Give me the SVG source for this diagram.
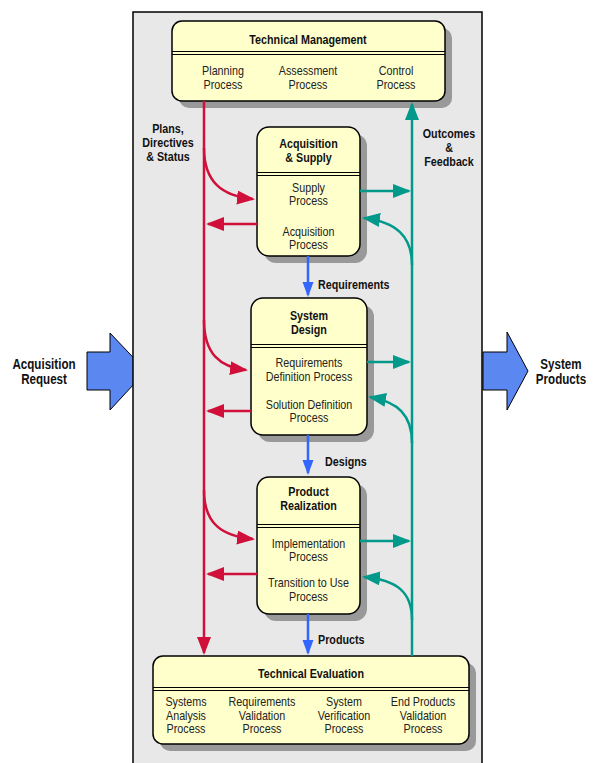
<svg xmlns="http://www.w3.org/2000/svg" width="596" height="763" viewBox="0 0 596 763">
<style>
text{font-family:"Liberation Sans",Arial,sans-serif;text-anchor:middle;transform-box:fill-box;transform-origin:center;transform:scaleX(0.86)}
.t{font-weight:bold;font-size:12.5px;fill:#111}
.s{font-size:12.5px;fill:#222}
.l{font-weight:bold;font-size:12.5px;fill:#111}
.st{text-anchor:start;transform-origin:left center}
.big{font-weight:bold;font-size:14.5px;fill:#111;transform:scaleX(0.8)}
.box{fill:#ffffcc;stroke:#000;stroke-width:1.5}
.sh{fill:#999}
.dl{stroke:#000;stroke-width:1.2}
.red{fill:none;stroke:#d0103a;stroke-width:2.5}
.teal{fill:none;stroke:#00998a;stroke-width:2.5}
.blue{fill:none;stroke:#3366ff;stroke-width:2.5}
.bigarrow{fill:#5a87f0;stroke:#000;stroke-width:1}
</style>
<defs>
<marker id="ar" markerUnits="userSpaceOnUse" markerWidth="20" markerHeight="16" refX="16" refY="7" orient="auto"><path d="M0,0 L18,7 L0,14 z" fill="#d0103a"/></marker>
<marker id="at" markerUnits="userSpaceOnUse" markerWidth="20" markerHeight="16" refX="16" refY="7" orient="auto"><path d="M0,0 L18,7 L0,14 z" fill="#00998a"/></marker>
<marker id="ab" markerUnits="userSpaceOnUse" markerWidth="16" markerHeight="12" refX="13" refY="5.5" orient="auto"><path d="M0,0 L15,5.5 L0,11 z" fill="#3366ff"/></marker>
</defs>
<g id="acq-request">
<polygon class="bigarrow" points="87,352 110,352 110,333 146,371 110,410 110,390 87,390"/>
<text class="big" x="44" y="369">Acquisition</text>
<text class="big" x="44" y="384">Request</text>
</g>
<rect id="panel" x="133" y="12" width="349" height="760" fill="#e8e8e8" stroke="#000" stroke-width="1.5"/>
<g id="sys-products">
<polygon class="bigarrow" points="483,352 507,352 507,332 528,371 507,410 507,390 483,390"/>
<text class="big" x="561" y="369">System</text>
<text class="big" x="561" y="384">Products</text>
</g>
<g id="tech-mgmt">
<rect class="sh" x="179" y="28" width="273" height="80" rx="10"/>
<rect class="box" x="172" y="21" width="273" height="80" rx="10"/>
<line class="dl" x1="172" y1="51.5" x2="445" y2="51.5"/><line class="dl" x1="172" y1="54.5" x2="445" y2="54.5"/>
<text class="t" x="308" y="44">Technical Management</text>
<text class="s" x="223" y="75">Planning</text><text class="s" x="223" y="89">Process</text>
<text class="s" x="308" y="75">Assessment</text><text class="s" x="308" y="89">Process</text>
<text class="s" x="396" y="75">Control</text><text class="s" x="396" y="89">Process</text>
</g>
<g id="acq-supply">
<rect class="sh" x="264" y="134" width="103" height="129" rx="12"/>
<rect class="box" x="257" y="127" width="103" height="129" rx="12"/>
<line class="dl" x1="257" y1="172.5" x2="360" y2="172.5"/><line class="dl" x1="257" y1="175.5" x2="360" y2="175.5"/>
<text class="t" x="308.5" y="148.5">Acquisition</text><text class="t" x="308.5" y="162.5">&amp; Supply</text>
<text class="s" x="308.5" y="192">Supply</text><text class="s" x="308.5" y="205">Process</text>
<text class="s" x="308.5" y="236">Acquisition</text><text class="s" x="308.5" y="249">Process</text>
</g>
<g id="sys-design">
<rect class="sh" x="258" y="305" width="116" height="137" rx="12"/>
<rect class="box" x="251" y="298" width="116" height="137" rx="12"/>
<line class="dl" x1="251" y1="344.5" x2="367" y2="344.5"/><line class="dl" x1="251" y1="347.5" x2="367" y2="347.5"/>
<text class="t" x="309" y="320">System</text><text class="t" x="309" y="334">Design</text>
<text class="s" x="309" y="367">Requirements</text><text class="s" x="309" y="381">Definition Process</text>
<text class="s" x="309" y="409">Solution Definition</text><text class="s" x="309" y="422">Process</text>
</g>
<g id="prod-real">
<rect class="sh" x="264" y="484" width="103" height="137" rx="12"/>
<rect class="box" x="257" y="477" width="103" height="137" rx="12"/>
<line class="dl" x1="257" y1="524.5" x2="360" y2="524.5"/><line class="dl" x1="257" y1="527.5" x2="360" y2="527.5"/>
<text class="t" x="308.5" y="496">Product</text><text class="t" x="308.5" y="510">Realization</text>
<text class="s" x="308.5" y="548">Implementation</text><text class="s" x="308.5" y="561">Process</text>
<text class="s" x="308.5" y="587">Transition to Use</text><text class="s" x="308.5" y="601">Process</text>
</g>
<g id="tech-eval">
<rect class="sh" x="160" y="663" width="316" height="88" rx="10"/>
<rect class="box" x="153" y="656" width="316" height="88" rx="10"/>
<line class="dl" x1="153" y1="687.5" x2="469" y2="687.5"/><line class="dl" x1="153" y1="690.5" x2="469" y2="690.5"/>
<text class="t" x="311" y="678">Technical Evaluation</text>
<text class="s" x="186" y="706">Systems</text><text class="s" x="186" y="720">Analysis</text><text class="s" x="186" y="733">Process</text>
<text class="s" x="262" y="706">Requirements</text><text class="s" x="262" y="720">Validation</text><text class="s" x="262" y="733">Process</text>
<text class="s" x="344" y="706">System</text><text class="s" x="344" y="720">Verification</text><text class="s" x="344" y="733">Process</text>
<text class="s" x="423" y="706">End Products</text><text class="s" x="423" y="720">Validation</text><text class="s" x="423" y="733">Process</text>
</g>
<g id="connectors">
<path class="red" d="M204,101 L204,653" marker-end="url(#ar)"/>
<path class="red" d="M204,148 C204,182 222,196 253,199" marker-end="url(#ar)"/>
<path class="red" d="M204,320 C204,354 220,367 246,370" marker-end="url(#ar)"/>
<path class="red" d="M204,490 C204,524 222,536 253,539" marker-end="url(#ar)"/>
<path class="red" d="M257,224 L208,224" marker-end="url(#ar)"/>
<path class="red" d="M251,411 L208,411" marker-end="url(#ar)"/>
<path class="red" d="M257,574 L208,574" marker-end="url(#ar)"/>
<path class="teal" d="M412,656 L412,104" marker-end="url(#at)"/>
<path class="teal" d="M360,191 L409,191" marker-end="url(#at)"/>
<path class="teal" d="M367,362 L409,362" marker-end="url(#at)"/>
<path class="teal" d="M360,541 L409,541" marker-end="url(#at)"/>
<path class="teal" d="M412,265 C412,236 396,222 364,218" marker-end="url(#at)"/>
<path class="teal" d="M412,443 C412,415 398,402 370,397" marker-end="url(#at)"/>
<path class="teal" d="M412,620 C412,592 397,580 364,577" marker-end="url(#at)"/>
<path class="blue" d="M308,256 L308,295" marker-end="url(#ab)"/>
<path class="blue" d="M308,435 L308,473" marker-end="url(#ab)"/>
<path class="blue" d="M308,614 L308,653" marker-end="url(#ab)"/>
<text class="l" x="168" y="133">Plans,</text><text class="l" x="168" y="147">Directives</text><text class="l" x="168" y="161">&amp; Status</text>
<text class="l" x="449" y="138">Outcomes</text><text class="l" x="449" y="152">&amp;</text><text class="l" x="449" y="166">Feedback</text>
<text class="l st" x="318" y="289">Requirements</text>
<text class="l st" x="325" y="466">Designs</text>
<text class="l st" x="318" y="644">Products</text>
</g>
</svg>
